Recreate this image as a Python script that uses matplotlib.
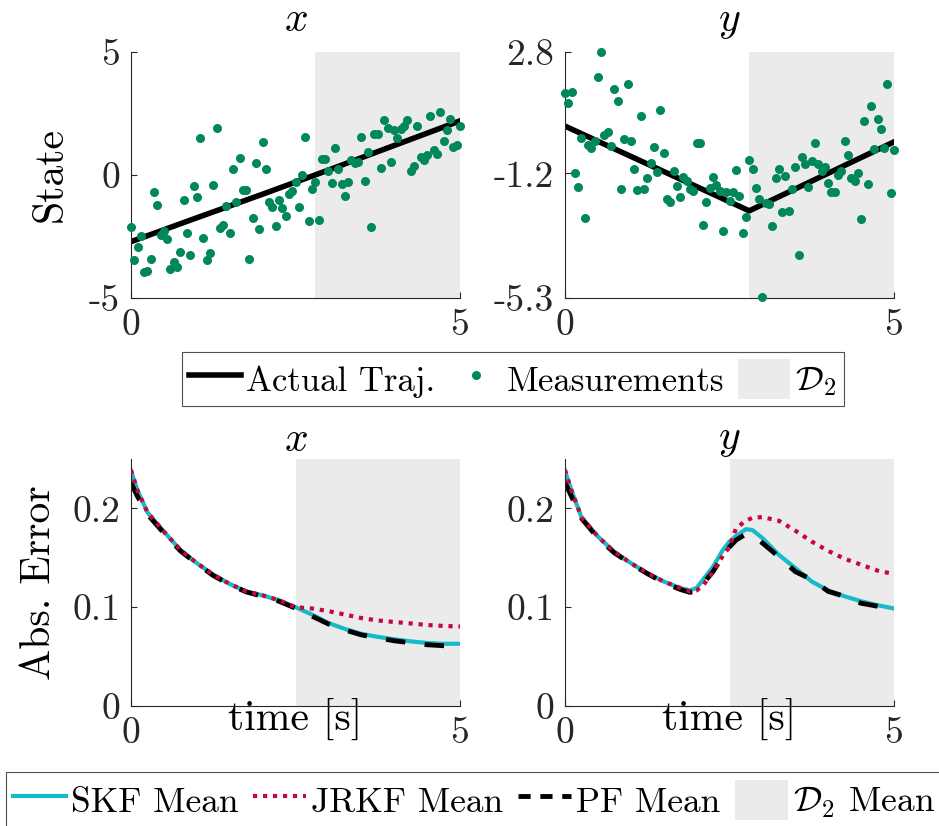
import numpy as np
import matplotlib
matplotlib.use("Agg")
import matplotlib.pyplot as plt
from matplotlib.patches import Patch
from matplotlib.lines import Line2D

plt.rcParams['font.family'] = ['cmr10', 'DejaVu Serif']
plt.rcParams['mathtext.fontset'] = 'cm'
plt.rcParams['axes.formatter.use_mathtext'] = True
plt.rcParams['axes.unicode_minus'] = False

# measurement times (every 0.05 s)
t_meas = np.linspace(0, 5, 101)

meas_x = [-2.12, -3.45, -2.91, -2.48, -3.96, -3.92, -3.42, -0.69, -1.2, -2.45,
          -2.28, -2.59, -3.83, -3.53, -3.73, -3.13, -1.02, -2.37, -3.27, -0.46,
          -0.89, 1.52, -2.55, -3.46, -3.17, -0.42, 1.9, -2.17, -2.02, -1.27,
          -2.37, 0.23, -1.09, 0.69, -0.62, -0.62, -3.4, -1.74, 0.47, -2.21,
          1.36, 0.23, -1.09, -1.31, -2.08, -1.01, -1.36, -1.67, -0.77, -0.66,
          -0.27, -1.31, 0.01, 1.55, -1.89, -0.58, -0.28, -1.82, 0.66, 0.66,
          0.18, -0.34, 1.1, 0.23, -0.35, -0.84, -0.3, 0.59, 0.49, 0.53,
          1.56, -0.23, 0.93, -2.12, 1.68, 1.68, 0.27, 2.25, 1.9, 0.54,
          1.81, 1.52, 1.87, 2.01, 2.25, 0.18, 0.35, 2.01, 0.73, 0.59,
          0.82, 2.41, 1.02, 0.85, 2.57, 1.37, 1.81, 2.26, 1.13, 1.21, 1.98]

meas_y = [1.45, 1.12, 1.47, -1.2, -1.64, -0.02, -2.68, -0.27, -0.35, -0.13,
          1.98, 2.79, 0.06, 0.17, -0.3, 1.59, 1.18, -1.7, -0.08, 1.73,
          -0.13, -1.05, -1.76, 0.68, -1.72, -1.35, -0.87, -0.33, -1.15, 0.89,
          -0.52, -2.04, -2.14, -1.12, -1.61, -1.96, -1.3, -1.44, -1.72, -1.78,
          -0.18, -0.18, -2.9, -2.14, -1.69, -1.32, -1.59, -1.78, -3.08, -1.81,
          -2.11, -1.81, -1.09, -1.95, -3.15, -2.62, -0.76, -1.04, -1.69, -2.05,
          -5.28, -2.16, -2.19, -2.93, -1.36, -1.04, -2.48, -1.29, -2.45, -1.72,
          -0.98, -3.88, -0.67, -0.89, -1.65, -0.78, -0.19, -0.9, -1.11, -0.98,
          -1.51, -1.81, -1.82, -1.25, -1.12, -0.13, -0.58, -1.34, -1.45, -1.19,
          -2.7, 0.53, -1.56, 1.02, -0.41, 0.6, 0.28, -0.35, 1.73, -1.84, -0.43]

# actual trajectories
traj_x_t = [0, 1, 2, 3, 4, 5]
traj_x = [-2.71, -1.74, -0.78, 0.2, 1.2, 2.2]
traj_y_t = [0, 2.8, 5]
traj_y = [0.36, -2.43, -0.16]

# absolute errors, x state
err_t = [0, 0.1, 0.25, 0.5, 0.75, 1.0, 1.25, 1.5, 1.75, 2.0, 2.25, 2.5,
         2.75, 3.0, 3.25, 3.5, 3.75, 4.0, 4.25, 4.5, 4.75, 5.0]
skf_x = [0.238, 0.218, 0.196, 0.1765, 0.158, 0.1446, 0.133, 0.1235, 0.116, 0.112, 0.107, 0.100,
         0.0926, 0.084, 0.078, 0.073, 0.070, 0.0675, 0.0654, 0.0638, 0.063, 0.063]
jrkf_x = [0.239, 0.218, 0.196, 0.1765, 0.158, 0.1446, 0.133, 0.1235, 0.116, 0.112, 0.107, 0.100,
          0.0987, 0.096, 0.0926, 0.089, 0.0866, 0.085, 0.0836, 0.082, 0.081, 0.0805]
pf_x = [0.226, 0.212, 0.194, 0.175, 0.157, 0.144, 0.132, 0.123, 0.1155, 0.111, 0.106, 0.099,
        0.091, 0.083, 0.077, 0.072, 0.069, 0.066, 0.064, 0.062, 0.061, 0.0605]

# absolute errors, y state
err_t_y = [0, 0.1, 0.25, 0.5, 0.75, 1.0, 1.25, 1.5, 1.75, 1.9, 2.0, 2.1, 2.25, 2.4, 2.5, 2.6,
           2.75, 2.85, 3.0, 3.25, 3.5, 3.75, 4.0, 4.25, 4.5, 4.75, 5.0]
skf_y = [0.238, 0.218, 0.191, 0.1715, 0.156, 0.1446, 0.1346, 0.126, 0.1195, 0.117, 0.1195, 0.128,
         0.141, 0.158, 0.1665, 0.172, 0.179, 0.178, 0.170, 0.153, 0.1396, 0.126, 0.117, 0.111,
         0.106, 0.102, 0.0987]
jrkf_y = [0.239, 0.218, 0.191, 0.1715, 0.156, 0.1446, 0.1346, 0.126, 0.1195, 0.116, 0.117, 0.122,
          0.136, 0.152, 0.161, 0.18, 0.1876, 0.1905, 0.1912, 0.1875, 0.1775, 0.1664, 0.157, 0.149,
          0.143, 0.137, 0.1336]
pf_y = [0.226, 0.212, 0.190, 0.170, 0.155, 0.144, 0.134, 0.125, 0.118, 0.115, 0.117, 0.124,
        0.136, 0.152, 0.161, 0.168, 0.174, 0.172, 0.165, 0.151, 0.136, 0.128, 0.116, 0.111,
        0.104, 0.101, 0.0977]

green = '#00875a'
cyan = '#17bac6'
red = '#c8063c'
shade = '#ebebeb'
axgray = '#262626'
dots = (0, (1, 1.4))
dashes = (0, (4, 4))

fig = plt.figure(figsize=(9.39, 8.26), dpi=100)
W, H = 939, 826


def make_ax(l, r, t, b):
    ax = fig.add_axes([l / W, 1 - b / H, (r - l) / W, (b - t) / H])
    for s in ['top', 'right']:
        ax.spines[s].set_visible(False)
    for s in ['left', 'bottom']:
        ax.spines[s].set_color(axgray)
        ax.spines[s].set_linewidth(0.8)
    ax.tick_params(direction='in', length=4, width=0.8, colors=axgray,
                   labelcolor='#262626', labelsize=27, pad=8)
    return ax


ax1 = make_ax(131, 460, 52, 298)
ax2 = make_ax(565, 894, 52, 298)
ax3 = make_ax(131, 460, 459, 706)
ax4 = make_ax(565, 894, 459, 706)

# top row
for ax, meas, tt, tr in [(ax1, meas_x, traj_x_t, traj_x), (ax2, meas_y, traj_y_t, traj_y)]:
    ax.axvspan(2.8, 5, color=shade, lw=0, zorder=0)
    ax.plot(tt, tr, color='k', lw=4, zorder=2)
    ax.plot(t_meas, meas, 'o', color=green, ms=6.5, mec='none', zorder=3, clip_on=False)
    ax.set_xlim(0, 5)
    ax.set_xticks([0, 5], ['0', '5'])
    ax.set_title(['$x$', '$y$'][ax is ax2], fontsize=30, pad=15)

ax1.set_ylim(-5, 5)
ax1.set_yticks([-5, 0, 5], ['-5', '0', '5'])
ax2.set_ylim(-5.3, 2.8)
ax2.set_yticks([-5.3, -1.2, 2.8], ['-5.3', '-1.2', '2.8'])
ax1.set_ylabel('State', fontsize=30, labelpad=14)

# bottom row
for ax, t, s, j, p in [(ax3, err_t, skf_x, jrkf_x, pf_x), (ax4, err_t_y, skf_y, jrkf_y, pf_y)]:
    ax.axvspan(2.5, 5, color=shade, lw=0, zorder=0)
    ax.plot(t, s, color=cyan, lw=3, zorder=2)
    ax.plot(t, j, color=red, lw=3, ls=dots, zorder=3)
    ax.plot(t, p, color='k', lw=3.5, ls=dashes, zorder=2.5)
    ax.set_xlim(0, 5)
    ax.set_ylim(0, 0.25)
    ax.set_xticks([0, 5], ['0', '5'])
    ax.set_yticks([0, 0.1, 0.2], ['0', '0.1', '0.2'])
    ax.set_xlabel('time [s]', fontsize=30, labelpad=-38)

ax3.set_title('$x$', fontsize=30, pad=6)
ax4.set_title('$y$', fontsize=30, pad=6)
ax3.set_ylabel('Abs. Error', fontsize=30, labelpad=10)

# legends
h_top = [Line2D([], [], color='k', lw=4),
         Line2D([], [], marker='o', ls='none', color=green, ms=6.5, mec='none'),
         Patch(facecolor=shade, edgecolor='none')]
leg1 = fig.legend(h_top, ['Actual Traj.', 'Measurements', r'$\mathcal{D}_2$'],
                  loc='center', bbox_to_anchor=(513 / W, 1 - 379 / H), ncol=3,
                  fontsize=25, frameon=True, fancybox=False, edgecolor='#262626',
                  handlelength=1.5, handletextpad=0.15, columnspacing=0.4,
                  borderpad=0.2, borderaxespad=0, handleheight=1.4)
leg1.get_frame().set_linewidth(0.8)

h_bot = [Line2D([], [], color=cyan, lw=3),
         Line2D([], [], color=red, lw=3, ls=dots),
         Line2D([], [], color='k', lw=3.5, ls=(0, (2.5, 2))),
         Patch(facecolor=shade, edgecolor='none')]
leg2 = fig.legend(h_bot, ['SKF Mean', 'JRKF Mean', 'PF Mean', r'$\mathcal{D}_2$ Mean'],
                  loc='center', bbox_to_anchor=(474 / W, 1 - 800 / H), ncol=4,
                  fontsize=25.5, frameon=True, fancybox=False, edgecolor='#262626',
                  handlelength=1.5, handletextpad=0.15, columnspacing=0.4,
                  borderpad=0.2, borderaxespad=0, handleheight=1.4)
leg2.get_frame().set_linewidth(0.8)

fig.savefig('out.png', dpi=100)
